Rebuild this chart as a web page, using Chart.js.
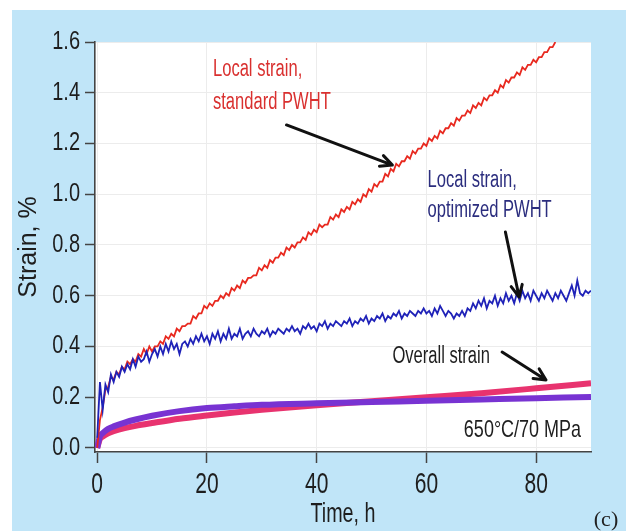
<!DOCTYPE html>
<html>
<head>
<meta charset="utf-8">
<script src="https://cdn.jsdelivr.net/npm/chart.js@4.4.1/dist/chart.umd.min.js"></script>
<style>
  html, body { margin: 0; padding: 0; background: #ffffff; }
  #wrap { width: 626px; height: 531px; }
</style>
</head>
<body>
<div id="wrap"><canvas id="c" width="626" height="531"></canvas></div>
<script>
// ---- data ----
const xTicks = [0, 20, 40, 60, 80];
const yTicks = [0, 0.2, 0.4, 0.6, 0.8, 1.0, 1.2, 1.4, 1.6];

// sampled every 0.5 h
const localStandard = [
  0.00, 0.11, 0.16, 0.23, 0.24, 0.28, 0.27, 0.30, 0.29, 0.32,
  0.31, 0.34, 0.33, 0.35, 0.34, 0.37, 0.36, 0.39, 0.37, 0.40,
  0.38, 0.40, 0.40, 0.42, 0.41, 0.44, 0.43, 0.45, 0.44, 0.47,
  0.46, 0.48, 0.48, 0.49, 0.49, 0.52, 0.51, 0.53, 0.53, 0.56,
  0.55, 0.57, 0.56, 0.58, 0.58, 0.60, 0.59, 0.61, 0.60, 0.63,
  0.62, 0.64, 0.63, 0.66, 0.65, 0.67, 0.67, 0.68, 0.68, 0.71,
  0.70, 0.72, 0.71, 0.74, 0.73, 0.75, 0.75, 0.77, 0.76, 0.79,
  0.78, 0.80, 0.79, 0.81, 0.81, 0.83, 0.82, 0.85, 0.84, 0.86,
  0.85, 0.88, 0.87, 0.88, 0.88, 0.91, 0.90, 0.92, 0.91, 0.94,
  0.93, 0.95, 0.94, 0.97, 0.96, 0.98, 0.97, 1.00, 0.99, 1.02,
  1.01, 1.04, 1.03, 1.05, 1.05, 1.08, 1.07, 1.10, 1.09, 1.12,
  1.11, 1.13, 1.13, 1.15, 1.14, 1.17, 1.16, 1.18, 1.18, 1.20,
  1.19, 1.22, 1.21, 1.23, 1.22, 1.25, 1.24, 1.26, 1.26, 1.28,
  1.27, 1.30, 1.29, 1.31, 1.31, 1.33, 1.32, 1.35, 1.34, 1.36,
  1.35, 1.38, 1.37, 1.39, 1.39, 1.41, 1.40, 1.43, 1.42, 1.45,
  1.44, 1.46, 1.46, 1.48, 1.47, 1.50, 1.49, 1.51, 1.51, 1.53,
  1.52, 1.54, 1.54, 1.56, 1.56, 1.58, 1.58, 1.60
];

const localOptimized = [
  0.04, 0.26, 0.15, 0.25, 0.22, 0.29, 0.26, 0.30, 0.28, 0.32,
  0.30, 0.33, 0.31, 0.35, 0.32, 0.36, 0.34, 0.35, 0.38, 0.34,
  0.37, 0.39, 0.36, 0.40, 0.37, 0.41, 0.38, 0.42, 0.39, 0.41,
  0.37, 0.41, 0.42, 0.40, 0.43, 0.41, 0.44, 0.42, 0.45, 0.42,
  0.44, 0.41, 0.45, 0.43, 0.46, 0.42, 0.45, 0.43, 0.47, 0.43,
  0.45, 0.44, 0.47, 0.43, 0.45, 0.46, 0.44, 0.47, 0.45, 0.44,
  0.46, 0.45, 0.47, 0.44, 0.46, 0.45, 0.47, 0.46, 0.45, 0.47,
  0.46, 0.48, 0.46, 0.47, 0.45, 0.48, 0.47, 0.49, 0.47, 0.48,
  0.46, 0.49, 0.48, 0.50, 0.47, 0.49, 0.48, 0.50, 0.49, 0.48,
  0.50, 0.49, 0.51, 0.48, 0.50, 0.49, 0.51, 0.50, 0.52, 0.49,
  0.51, 0.50, 0.52, 0.51, 0.53, 0.50, 0.52, 0.51, 0.53, 0.52,
  0.54, 0.51, 0.53, 0.52, 0.54, 0.53, 0.52, 0.54, 0.53, 0.55,
  0.53, 0.54, 0.52, 0.55, 0.53, 0.56, 0.54, 0.52, 0.54, 0.53,
  0.51, 0.53, 0.52, 0.54, 0.52, 0.55, 0.54, 0.57, 0.55, 0.58,
  0.56, 0.59, 0.55, 0.58, 0.57, 0.60, 0.56, 0.59, 0.57, 0.61,
  0.58, 0.60, 0.57, 0.61, 0.58, 0.62, 0.59, 0.61, 0.58, 0.62,
  0.60, 0.58, 0.61, 0.59, 0.62, 0.60, 0.58, 0.61, 0.59, 0.62,
  0.60, 0.58, 0.61, 0.64, 0.60, 0.66, 0.61, 0.60, 0.62, 0.61,
  0.62
];

const overallTime = [0, 0.5, 1, 2, 3, 5, 7, 10, 15, 20, 25, 30, 40, 50, 60, 70, 80, 90];
const overallStandard = [0, 0.035, 0.045, 0.058, 0.066, 0.078, 0.087, 0.098, 0.115, 0.128, 0.140, 0.150, 0.168, 0.184, 0.200, 0.216, 0.235, 0.255];
const overallOptimized = [0, 0.045, 0.058, 0.075, 0.085, 0.100, 0.112, 0.127, 0.145, 0.157, 0.164, 0.170, 0.176, 0.181, 0.186, 0.191, 0.196, 0.201];

// sampling grid of the local-strain records (h)
const stepH = 0.5;
const toPoints = (vals, t) => vals.map((v, i) => ({ x: t ? t[i] : i * stepH, y: v }));

// ---- fonts: a condensed sans is emulated by squeezing Liberation Sans horizontally.
// The dummy fallback name "sqNN" carries the squeeze factor (NN/100).
const sans = sq => "'Liberation Sans', sq" + sq + ", sans-serif";
const WIDE = "'Liberation Sans', Arial, sans-serif";

const canvas = document.getElementById('c');
const ctx0 = canvas.getContext('2d');
const rawFillText = ctx0.fillText.bind(ctx0);
ctx0.fillText = function (text, x, y, maxW) {
  const m = /sq(\d+)/.exec(this.font);
  const f = m ? Number(m[1]) / 100 : 1;
  this.save();
  this.translate(x, y);
  this.scale(f, 1);
  if (maxW === undefined) rawFillText(text, 0, 0); else rawFillText(text, 0, 0, maxW / f);
  this.restore();
};

// ---- annotations (data coordinates) ----
const labels = [
  { lines: ['Local strain,', 'standard PWHT'], x: 21.1, y: 1.465, dy: 0.13, color: '#d9302f', size: 23, sq: 72, align: 'left' },
  { lines: ['Local strain,', 'optimized PWHT'], x: 60.2, y: 1.029, dy: 0.118, color: '#2b2d7e', size: 23, sq: 72, align: 'left' },
  { lines: ['Overall strain'], x: 53.8, y: 0.335, dy: 0, color: '#1e1e1e', size: 23, sq: 72, align: 'left' },
  { lines: ['650°C/70 MPa'], x: 88.2, y: 0.043, dy: 0, color: '#1e1e1e', size: 24, sq: 75, align: 'right' }
];
const arrows = [
  { from: [34.5, 1.273], to: [53.8, 1.115] },
  { from: [74.4, 0.851], to: [76.9, 0.595] },
  { from: [73.8, 0.378], to: [81.8, 0.268] }
];

const backgroundPlugin = {
  id: 'bg',
  beforeDraw(chart) {
    const { ctx, chartArea: a } = chart;
    ctx.save();
    ctx.fillStyle = '#ffffff';
    ctx.fillRect(0, 0, chart.width, chart.height);
    ctx.fillStyle = '#c0e5f8';
    ctx.fillRect(12, 10, chart.width - 12, chart.height - 10);
    ctx.fillStyle = '#ffffff';
    ctx.fillRect(a.left, a.top, a.right - a.left, a.bottom - a.top);
    ctx.restore();
  }
};

const notesPlugin = {
  id: 'notes',
  afterDatasetsDraw(chart) {
    const { ctx } = chart;
    const xs = chart.scales.x, ys = chart.scales.y;
    ctx.save();
    labels.forEach(l => {
      ctx.font = l.size + 'px ' + sans(l.sq);
      ctx.fillStyle = l.color;
      ctx.textAlign = l.align;
      ctx.textBaseline = 'alphabetic';
      l.lines.forEach((s, i) => {
        ctx.fillText(s, xs.getPixelForValue(l.x), ys.getPixelForValue(l.y - i * l.dy));
      });
    });
    ctx.strokeStyle = '#111111';
    ctx.lineWidth = 3;
    ctx.lineCap = 'round';
    ctx.lineJoin = 'round';
    arrows.forEach(a => {
      const x1 = xs.getPixelForValue(a.from[0]), y1 = ys.getPixelForValue(a.from[1]);
      const x2 = xs.getPixelForValue(a.to[0]), y2 = ys.getPixelForValue(a.to[1]);
      const ang = Math.atan2(y2 - y1, x2 - x1);
      const hl = 13, hw = 0.45;
      ctx.beginPath();
      ctx.moveTo(x1, y1);
      ctx.lineTo(x2, y2);
      ctx.moveTo(x2 - hl * Math.cos(ang - hw), y2 - hl * Math.sin(ang - hw));
      ctx.lineTo(x2, y2);
      ctx.lineTo(x2 - hl * Math.cos(ang + hw), y2 - hl * Math.sin(ang + hw));
      ctx.stroke();
    });
    // panel tag
    ctx.font = "22px 'Liberation Serif', 'Times New Roman', serif";
    ctx.fillStyle = '#222222';
    ctx.textAlign = 'center';
    ctx.fillText('(c)', 606, 526);
    ctx.restore();
  }
};

new Chart(canvas, {
  type: 'line',
  data: {
    datasets: [
      { label: 'Local strain, optimized PWHT', data: toPoints(localOptimized), borderColor: '#1f22b8', borderWidth: 1.8, pointRadius: 0, tension: 0 },
      { label: 'Local strain, standard PWHT', data: toPoints(localStandard), borderColor: '#e8291f', borderWidth: 1.8, pointRadius: 0, tension: 0 },
      { label: 'Overall strain, optimized PWHT', data: toPoints(overallOptimized, overallTime), borderColor: '#7833d2', borderWidth: 6, pointRadius: 0, cubicInterpolationMode: 'monotone' },
      { label: 'Overall strain, standard PWHT', data: toPoints(overallStandard, overallTime), borderColor: '#e8336f', borderWidth: 6, pointRadius: 0, cubicInterpolationMode: 'monotone' }
    ]
  },
  options: {
    responsive: false,
    animation: false,
    devicePixelRatio: 1,
    layout: { padding: { top: 42, right: 35, left: 0, bottom: 0 } },
    plugins: { legend: { display: false }, tooltip: { enabled: false } },
    scales: {
      x: {
        type: 'linear', min: -0.4, max: 90,
        afterBuildTicks: s => { s.ticks = xTicks.map(v => ({ value: v })); },
        afterFit: s => { s.height = 79; },
        ticks: { font: { family: sans(70), size: 30 }, color: '#1e1e1e', padding: 4, maxRotation: 0 },
        grid: { color: '#ececec', lineWidth: 1, tickLength: 11, tickColor: '#444444', tickWidth: 1.5 },
        border: { display: true, color: '#444444', width: 1.6 },
        title: { display: true, text: 'Time, h', font: { family: sans(73), size: 27 }, color: '#1e1e1e', padding: { top: 0, bottom: 0 } }
      },
      y: {
        type: 'linear', min: -0.016, max: 1.6,
        afterBuildTicks: s => { s.ticks = yTicks.map(v => ({ value: v })); },
        afterFit: s => { s.width = 95; },
        ticks: { font: { family: sans(80), size: 25 }, color: '#1e1e1e', padding: 5, callback: v => v.toFixed(1) },
        grid: { color: '#ececec', lineWidth: 1, tickLength: 10, tickColor: '#444444', tickWidth: 1.5 },
        border: { display: true, color: '#444444', width: 1.6 },
        title: { display: true, text: 'Strain, %', font: { family: WIDE, size: 25 }, color: '#1e1e1e', padding: { top: 14, bottom: 0 } }
      }
    }
  },
  plugins: [backgroundPlugin, notesPlugin]
});
</script>
</body>
</html>
